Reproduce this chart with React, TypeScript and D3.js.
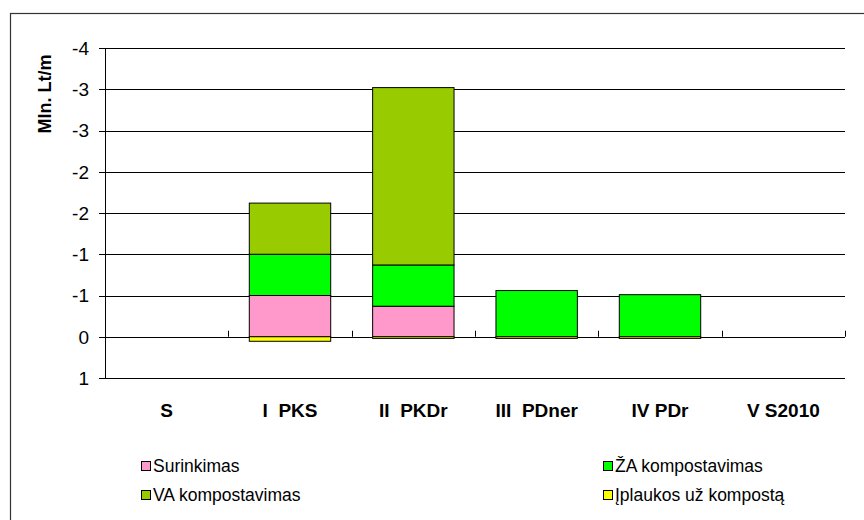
import React from "react";
import * as d3 from "d3";

const categories = ["S", "I  PKS", "II  PKDr", "III  PDner", "IV PDr", "V S2010"];
const seriesNames = ["Surinkimas", "ŽA kompostavimas", "VA kompostavimas", "Įplaukos už kompostą"];
const surinkimas = [0, -0.5, -0.37, 0, 0, 0];
const zaKompostavimas = [0, -0.5, -0.5, -0.56, -0.51, 0];
const vaKompostavimas = [0, -0.62, -2.15, 0, 0, 0];
const iplaukos = [0, 0.055, 0.02, 0.02, 0.02, 0];
const seriesColors = ["#FF99CC", "#00FF00", "#99CC00", "#FFFF00"];
const tickValues = [-3.5, -3, -2.5, -2, -1.5, -1, -0.5, 0, 0.5];
const yTitle = "Mln. Lt/m";

export default function App() {
  const W = 864, H = 520;
  const left = 105, right = 845, top = 48, bottom = 378;
  const x = d3.scaleBand().domain(categories).range([left, right]).paddingInner(0.34).paddingOuter(0.17);
  const xc = d3.scaleBand().domain(categories).range([left, right]);
  const y = d3.scaleLinear().domain([-3.5, 0.5]).range([top, bottom]);
  const table = categories.map((c, i) => ({
    cat: c,
    s0: surinkimas[i],
    s1: zaKompostavimas[i],
    s2: vaKompostavimas[i],
    s3: iplaukos[i],
  }));
  const stacked = d3.stack<any>().keys(["s0", "s1", "s2", "s3"]).offset(d3.stackOffsetDiverging)(table);
  const font = "Arial, 'Liberation Sans', sans-serif";
  const fmt = (v: number) => v.toFixed(0);
  const legendItems = [
    { x: 141, y: 461, i: 0 },
    { x: 603, y: 461, i: 1 },
    { x: 141, y: 490, i: 2 },
    { x: 603, y: 490, i: 3 },
  ];
  return (
    <svg width={W} height={H} style={{ position: "absolute", left: 0, top: 0, background: "#fff" }} fontFamily={font}>
      <rect x={0} y={0} width={W} height={H} fill="#fff" />
      <rect x={10.5} y={13.5} width={W + 20} height={H + 20} fill="none" stroke="#333" strokeWidth={1.2} />
      {tickValues.map((t) => (
        <g key={t}>
          <line x1={left - 6} x2={right} y1={Math.round(y(t)) + 0.5} y2={Math.round(y(t)) + 0.5} stroke="#000" strokeWidth={1} />
          <text x={89} y={y(t)} dy="0.36em" textAnchor="end" fontSize={19} fill="#000">{fmt(t)}</text>
        </g>
      ))}
      <line x1={left + 0.5} x2={left + 0.5} y1={top} y2={bottom} stroke="#000" strokeWidth={1} />
      {stacked.map((s, si) => (
        <g key={si}>
          {s.map((d, i) => {
            const v0 = d[0], v1 = d[1];
            if (v0 === v1) return null;
            const ya = y(Math.min(v0, v1)), yb = y(Math.max(v0, v1));
            return (
              <rect key={i} x={x(categories[i])!} y={ya} width={x.bandwidth()} height={yb - ya}
                fill={seriesColors[si]} stroke="#000" strokeWidth={1} />
            );
          })}
        </g>
      ))}
      {categories.map((c) => (
        <line key={"t" + c} x1={Math.round(xc(c)! + xc.bandwidth()) + 0.5} x2={Math.round(xc(c)! + xc.bandwidth()) + 0.5}
          y1={y(0) - 6} y2={y(0)} stroke="#000" strokeWidth={1} />
      ))}
      {categories.map((c) => (
        <text key={"l" + c} x={xc(c)! + xc.bandwidth() / 2} y={417} textAnchor="middle" fontSize={19} fontWeight="bold" fill="#000"
          style={{ whiteSpace: "pre" }}>{c}</text>
      ))}
      <text transform={`translate(51,${94}) rotate(-90)`} textAnchor="middle" fontSize={18} fontWeight="bold" fill="#000">{yTitle}</text>
      {legendItems.map((l) => (
        <g key={l.i}>
          <rect x={l.x + 0.5} y={l.y + 0.5} width={9} height={9} fill={seriesColors[l.i]} stroke="#000" strokeWidth={1} />
          <text x={l.x + 12} y={l.y + 5} dy="0.36em" fontSize={17.5} fill="#000">{seriesNames[l.i]}</text>
        </g>
      ))}
    </svg>
  );
}
